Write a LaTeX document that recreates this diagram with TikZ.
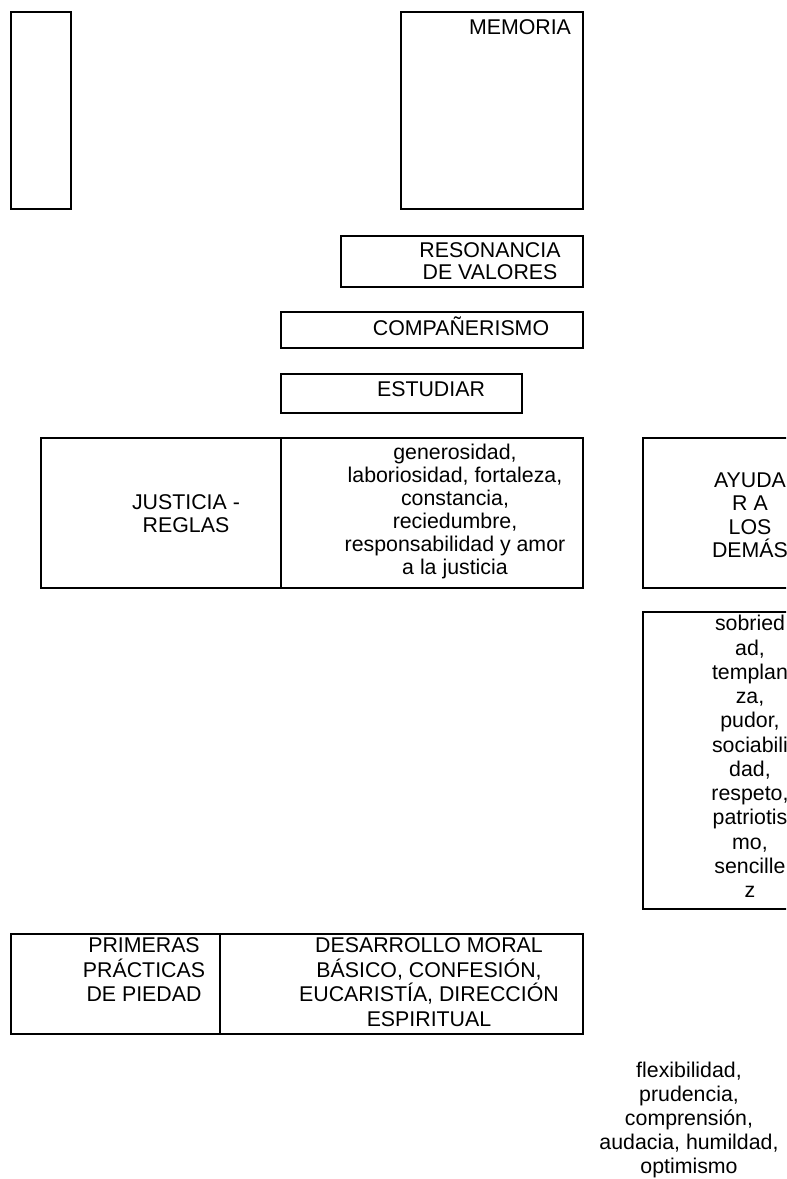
\documentclass[tikz,border=0pt]{standalone}
\usepackage{fontspec}
\setmainfont{Liberation Sans}
\usetikzlibrary{fit}
\begin{document}
\begin{tikzpicture}[x=0.75pt,y=-0.75pt,
  boxst/.style={draw=black, line width=1.4pt, inner sep=0pt},
  txt/.style={font=\fontsize{16}{17.6}\selectfont, align=center, inner sep=0pt, execute at begin node=\strut},
  lsp/.style={font=\fontsize{16}{#1}\selectfont}
]
\useasboundingbox (0,0) rectangle (786,1179);
\clip (0,0) rectangle (786,1179);
% boxes
\node[boxst, fit={(11,12)(71,209)}] (leftbox) {};
\node[boxst, fit={(401,12)(583,209)}] (memoria) {};
\node[boxst, fit={(341,236)(583,287)}] (resonancia) {};
\node[boxst, fit={(281,312)(583,348)}] (companerismo) {};
\node[boxst, fit={(281,374)(522,413)}] (estudiar) {};
\node[boxst, fit={(41,438)(281,588)}] (justicia) {};
\node[boxst, fit={(281,438)(583,588)}] (generosidad) {};
\node[boxst, fit={(643,438)(820,588)}] (ayudar) {};
\node[boxst, fit={(643,612)(820,909)}] (sobriedad) {};
\node[boxst, fit={(11,934)(220,1034)}] (primeras) {};
\node[boxst, fit={(220,934)(583,1034)}] (desarrollo) {};
% texts
\node[txt, anchor=base] (tmem) at (520,34) {MEMORIA};
\node[txt, lsp=16.5, anchor=north] (tres) at (490,242.6) {RESONANCIA\\DE VALORES};
\node[txt, anchor=base] (tcomp) at (461,335) {COMPAÑERISMO};
\node[txt, anchor=base] (test) at (431,396) {ESTUDIAR};
\node[txt, lsp=17.25, anchor=north] (tjus) at (186,493.9) {JUSTICIA -\\REGLAS};
\node[txt, lsp=17.25, anchor=north] (tgen) at (455,443.9) {generosidad,\\laboriosidad, fortaleza,\\constancia,\\reciedumbre,\\responsabilidad y amor\\a la justicia};
\node[txt, lsp=17.5, anchor=north] (tayu) at (750,472.7) {AYUDA\\R A\\LOS\\DEMÁS};
\node[txt, lsp=18.2, anchor=north] (tsob) at (750,615) {sobried\\ad,\\templan\\za,\\pudor,\\sociabili\\dad,\\respeto,\\patriotis\\mo,\\sencille\\z};
\node[txt, lsp=18.4, anchor=north] (tpri) at (144,937.4) {PRIMERAS\\PRÁCTICAS\\DE PIEDAD};
\node[txt, lsp=18.4, anchor=north] (tdes) at (429,937.4) {DESARROLLO MORAL\\BÁSICO, CONFESIÓN,\\EUCARISTÍA, DIRECCIÓN\\ESPIRITUAL};
\node[txt, lsp=18, anchor=north] (tflex) at (689,1062.2) {flexibilidad,\\prudencia,\\comprensión,\\audacia, humildad,\\optimismo};
\end{tikzpicture}
\end{document}
